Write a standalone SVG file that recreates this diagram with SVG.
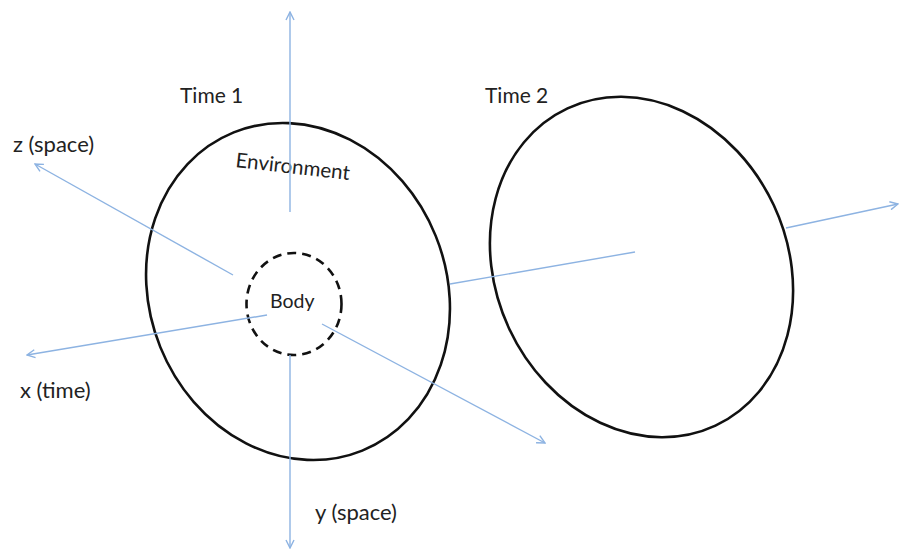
<svg xmlns="http://www.w3.org/2000/svg" width="899" height="552" viewBox="0 0 899 552">
  <style>
    .axis { stroke: #8db3e2; stroke-width: 1.4; fill: none; }
    .ring { stroke: #111; stroke-width: 2.6; fill: none; }
    .body { stroke: #111; stroke-width: 2.6; fill: none; stroke-dasharray: 9 6; }
    .lbl { font-family: Lato, "Liberation Sans", sans-serif; fill: #222; }
    .time { font-size: 21px; }
    .axname { font-size: 22px; }
  </style>
  <defs>
    <marker id="open-arrow" viewBox="0 0 10 10" refX="9" refY="5" markerWidth="10" markerHeight="10" markerUnits="userSpaceOnUse" orient="auto">
      <path d="M1,1 L9,5 L1,9" fill="none" stroke="#8db3e2" stroke-width="1.4"/>
    </marker>
  </defs>
  <rect width="899" height="552" fill="#fff"/>

  <!-- time slices -->
  <g id="time1">
    <ellipse class="ring" cx="298" cy="291.5" rx="148.5" ry="171.6" transform="rotate(-22 298 291.5)"/>
    <text class="lbl time" x="180" y="103">Time 1</text>
  </g>
  <g id="time2">
    <ellipse class="ring" cx="641.5" cy="267" rx="146" ry="175" transform="rotate(-25 641.5 267)"/>
    <text class="lbl time" x="485" y="103">Time 2</text>
  </g>
  <g id="environment">
    <text class="lbl" font-size="20.5" x="235" y="167" transform="rotate(6.5 235 167)">Environment</text>
  </g>
  <g id="body">
    <ellipse class="body" cx="294" cy="304" rx="47.5" ry="51"/>
    <text class="lbl" font-size="19.5" x="270" y="308">Body</text>
  </g>

  <!-- axes -->
  <g id="connectors">
    <line class="axis" x1="290" y1="212" x2="290" y2="12" marker-end="url(#open-arrow)"/>
    <line class="axis" x1="290" y1="355" x2="290" y2="548" marker-end="url(#open-arrow)"/>
    <line class="axis" x1="233" y1="275" x2="35" y2="164" marker-end="url(#open-arrow)"/>
    <line class="axis" x1="267" y1="315" x2="27" y2="355" marker-end="url(#open-arrow)"/>
    <line class="axis" x1="322" y1="324" x2="545" y2="443" marker-end="url(#open-arrow)"/>
    <line class="axis" x1="450" y1="284" x2="635" y2="252"/>
    <line class="axis" x1="786" y1="228" x2="898" y2="204" marker-end="url(#open-arrow)"/>
  </g>

  <!-- axis names -->
  <g id="axis-labels">
    <text class="lbl axname" x="13" y="152">z (space)</text>
    <text class="lbl axname" x="20" y="398">x (time)</text>
    <text class="lbl axname" x="315" y="520">y (space)</text>
  </g>
</svg>
